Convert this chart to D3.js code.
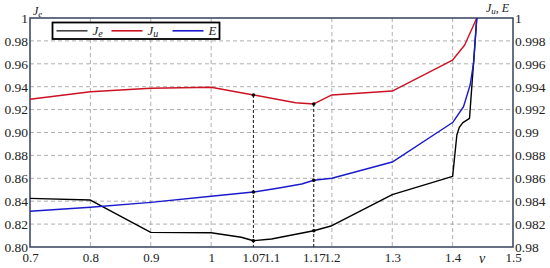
<!DOCTYPE html>
<html>
<head>
<meta charset="utf-8">
<script src="https://cdn.jsdelivr.net/npm/d3@7"></script>
<style>
  body { margin: 0; background: #fff; }
  .grid line { stroke: #9a9a9a; stroke-dasharray: 4,3; stroke-width: 0.8; }
</style>
</head>
<body>
<svg id="chart"></svg>
<script>
// nu values and series
const nuJe = [0.7, 0.8, 0.9, 1.0, 1.05, 1.07, 1.1, 1.17, 1.2, 1.3, 1.4, 1.407, 1.411, 1.417, 1.428, 1.44];
const valJe = [0.8425, 0.841, 0.8128, 0.8125, 0.8085, 0.8055, 0.807, 0.8142, 0.8186, 0.8457, 0.8617, 0.8978, 0.9045, 0.9086, 0.9124, 1.0];

const nuJu = [0.7, 0.8, 0.9, 1.0, 1.07, 1.14, 1.17, 1.2, 1.3, 1.4, 1.42, 1.44];
const valJu = [0.9929, 0.99356, 0.99386, 0.99395, 0.99328, 0.9926, 0.99249, 0.99328, 0.99362, 0.99633, 0.99764, 1.0];

const nuE = [0.7, 0.8, 0.9, 1.0, 1.07, 1.11, 1.15, 1.17, 1.2, 1.3, 1.4, 1.418, 1.429, 1.435, 1.44];
const valE = [0.98312, 0.98347, 0.9839, 0.98443, 0.9848, 0.98513, 0.9855, 0.98583, 0.986, 0.98742, 0.99087, 0.99225, 0.99415, 0.99618, 1.0];

const markNu = [1.07, 1.17];

const xTicks = [0.7, 0.8, 0.9, 1, 1.07, 1.1, 1.17, 1.2, 1.3, 1.4, 1.5];
const xGrid = [0.8, 0.9, 1, 1.2, 1.3, 1.4];
const yLeftTicks = [0.8, 0.82, 0.84, 0.86, 0.88, 0.9, 0.92, 0.94, 0.96, 0.98, 1];
const yRightTicks = [0.98, 0.982, 0.984, 0.986, 0.988, 0.99, 0.992, 0.994, 0.996, 0.998, 1];

const FONT = '"Liberation Serif", "Times New Roman", serif';

const config = {
  width: 550, height: 268,
  margin: { top: 18, right: 37, bottom: 21, left: 30 }
};

const svg = d3.select('#chart')
    .attr('width', config.width)
    .attr('height', config.height)
    .attr('font-family', FONT);

const w = config.width - config.margin.left - config.margin.right;
const h = config.height - config.margin.top - config.margin.bottom;

const chart = svg.append('g')
    .attr('transform', `translate(${config.margin.left},${config.margin.top})`);

const xScale = d3.scaleLinear().domain([0.7, 1.5]).range([0, w]);
const yLeft = d3.scaleLinear().domain([0.8, 1]).range([h, 0]);
const yRight = d3.scaleLinear().domain([0.98, 1]).range([h, 0]);

// grid
chart.append('g').attr('class', 'grid')
  .selectAll('line')
  .data(yLeftTicks.filter(d => d > 0.8 && d < 1))
  .join('line')
    .attr('x1', 0).attr('x2', w)
    .attr('y1', d => yLeft(d)).attr('y2', d => yLeft(d));

chart.append('g').attr('class', 'grid')
  .selectAll('line')
  .data(xGrid)
  .join('line')
    .attr('x1', d => xScale(d)).attr('x2', d => xScale(d))
    .attr('y1', 0).attr('y2', h);

// axes
const fmtLeft = d => d === 1 ? '1' : d.toFixed(2);
const fmtRight = d => d === 1 ? '1' : (d === 0.98 || d === 0.99 ? d.toFixed(2) : d.toFixed(3));

const leftG = chart.append('g')
    .call(d3.axisLeft(yLeft).tickValues(yLeftTicks).tickFormat(fmtLeft).tickSize(0).tickPadding(2));
const rightG = chart.append('g')
    .attr('transform', `translate(${w},0)`)
    .call(d3.axisRight(yRight).tickValues(yRightTicks).tickFormat(fmtRight).tickSize(0).tickPadding(2));
const bottomG = chart.append('g')
    .attr('transform', `translate(0,${h})`)
    .call(d3.axisBottom(xScale).tickValues(xTicks).tickFormat(d => String(d)).tickSize(0).tickPadding(6));

[leftG, rightG, bottomG].forEach(g => {
  g.select('.domain').remove();
  g.attr('font-family', FONT).attr('font-size', 13.5);
  g.selectAll('text').attr('fill', '#222');
});
bottomG.attr('font-size', 13);

// frame
chart.append('rect')
    .attr('x', 0).attr('y', 0).attr('width', w).attr('height', h)
    .attr('fill', 'none').attr('stroke', '#35415e').attr('stroke-width', 1.5);

// drop lines
const valAt = (nus, vals, n) => vals[nus.indexOf(n)];
chart.selectAll('.drop')
  .data(markNu)
  .join('line')
    .attr('class', 'drop')
    .attr('x1', d => xScale(d)).attr('x2', d => xScale(d))
    .attr('y1', d => yRight(valAt(nuJu, valJu, d))).attr('y2', h)
    .attr('stroke', '#111').attr('stroke-width', 1).attr('stroke-dasharray', '3,2');

// series
const series = [
  { nus: nuJe, vals: valJe, y: yLeft, color: '#000000' },
  { nus: nuJu, vals: valJu, y: yRight, color: '#cc1122' },
  { nus: nuE, vals: valE, y: yRight, color: '#1a1acc' }
];

series.forEach(s => {
  const line = d3.line().x((d, i) => xScale(s.nus[i])).y(d => s.y(d));
  chart.append('path')
      .datum(s.vals)
      .attr('d', line)
      .attr('fill', 'none')
      .attr('stroke', s.color)
      .attr('stroke-width', 1.4)
      .attr('stroke-linejoin', 'round');
  chart.selectAll(null)
    .data(markNu)
    .join('circle')
      .attr('cx', d => xScale(d))
      .attr('cy', d => s.y(valAt(s.nus, s.vals, d)))
      .attr('r', 1.8)
      .attr('fill', '#000');
});

// axis titles
const leftTitle = svg.append('text').attr('x', 33).attr('y', 15).attr('font-size', 12).attr('font-style', 'italic').attr('fill', '#222');
leftTitle.append('tspan').text('J');
leftTitle.append('tspan').attr('dy', 2).attr('font-size', 9).text('e');

const rightTitle = svg.append('text').attr('x', 486).attr('y', 12).attr('font-size', 12).attr('font-style', 'italic').attr('fill', '#222');
rightTitle.append('tspan').text('J');
rightTitle.append('tspan').attr('dy', 2).attr('font-size', 9).text('u');
rightTitle.append('tspan').attr('dy', -2).attr('font-style', 'normal').text(', ');
rightTitle.append('tspan').text('E');

svg.append('text').attr('x', 482).attr('y', 263).attr('font-size', 14)
    .attr('font-style', 'italic').attr('text-anchor', 'middle').attr('fill', '#222').text('ν');

// legend
const legend = svg.append('g').attr('transform', 'translate(52.5,22.5)');
legend.append('rect')
    .attr('width', 167).attr('height', 16.5)
    .attr('fill', '#fff').attr('stroke', '#000').attr('stroke-width', 1.8);

const legendItems = [
  { name: 'J', sub: 'e', color: '#444', x: 4 },
  { name: 'J', sub: 'u', color: '#cc1122', x: 59 },
  { name: 'E', sub: '', color: '#1a1acc', x: 120 }
];
legendItems.forEach(it => {
  legend.append('line')
      .attr('x1', it.x).attr('x2', it.x + 31)
      .attr('y1', 8.3).attr('y2', 8.3)
      .attr('stroke', it.color).attr('stroke-width', 1.6);
  const t = legend.append('text')
      .attr('x', it.x + 36).attr('y', 12.5)
      .attr('font-size', 13).attr('font-style', 'italic').attr('fill', '#222');
  t.append('tspan').text(it.name);
  if (it.sub) t.append('tspan').attr('dy', 2).attr('font-size', 10).text(it.sub);
});
</script>
</body>
</html>
